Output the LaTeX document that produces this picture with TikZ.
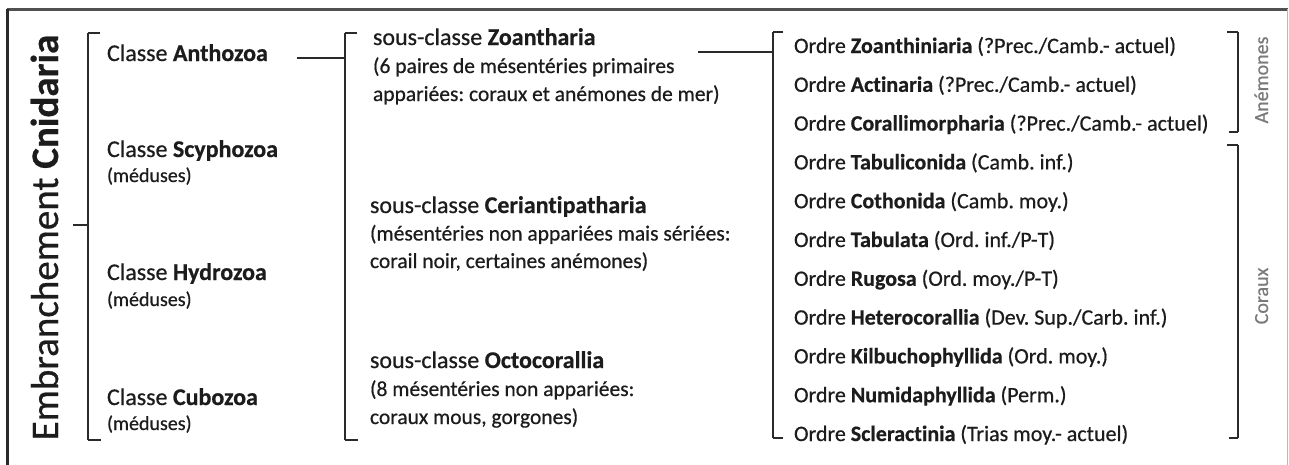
\documentclass[tikz,border=0pt]{standalone}
\usepackage{fontspec}
\setmainfont{Carlito}[Ligatures=NoCommon,FakeBold=0.6]
\definecolor{txt}{HTML}{1C1C1C}
\definecolor{ln}{HTML}{2A2A2A}
\definecolor{lbl}{HTML}{7A7A7A}
\definecolor{frtop}{HTML}{505050}
\definecolor{frright}{HTML}{B8B8B8}
\frenchspacing
\begin{document}
\begin{tikzpicture}[x=1pt,y=-1pt,
  every node/.style={inner sep=0pt,outer sep=0pt,text=txt},
  hd/.style={anchor=base west,font=\fontsize{24}{28}\selectfont},
  sm/.style={anchor=base west,font=\fontsize{20}{24}\selectfont},
  ds/.style={anchor=base west,font=\fontsize{21.5}{26}\selectfont},
  od/.style={anchor=base west,font=\fontsize{22}{26}\selectfont},
  gl/.style={anchor=base,rotate=90,text=lbl,font=\fontsize{20}{24}\selectfont},
  big/.style={anchor=base,rotate=90,font=\fontsize{39}{44}\selectfont},
  br/.style={draw=ln,line width=2.8pt},
  tk/.style={draw=ln,line width=2.2pt}]
\useasboundingbox (0,0) rectangle (1289,464);
% frame
\draw[draw=frtop,line width=2.8pt] (6.5,9.5) -- (1288,9.5);
\draw[draw=ln,line width=2.2pt] (7.5,9) -- (7.5,470);
\draw[draw=frright,line width=1pt] (1287,9) -- (1287,470);

% phylum
\node[big] (emb) at (58,237.5) {Embranchement \textbf{Cnidaria}};

% classes
\node[hd] (anth) at (107,61) {Classe \textbf{Anthozoa}};
\node[hd] (scyp) at (107,157) {Classe \textbf{Scyphozoa}};
\node[sm] (scypm) at (107,182) {(méduses)};
\node[hd] (hydr) at (107,280) {Classe \textbf{Hydrozoa}};
\node[sm] (hydrm) at (107,306) {(méduses)};
\node[hd] (cubo) at (107,405) {Classe \textbf{Cubozoa}};
\node[sm] (cubom) at (107,430) {(méduses)};

% subclasses
\node[hd] (zoan) at (373,45) {sous-classe \textbf{Zoantharia}};
\node[ds] (zoan1) at (373,73) {(6 paires de mésentéries primaires};
\node[ds] (zoan2) at (373,101) {appariées: coraux et anémones de mer)};
\node[hd] (ceri) at (370,213) {sous-classe \textbf{Ceriantipatharia}};
\node[ds] (ceri1) at (370,240.5) {(mésentéries non appariées mais sériées:};
\node[ds] (ceri2) at (370,268) {corail noir, certaines anémones)};
\node[hd] (octo) at (370,368) {sous-classe \textbf{Octocorallia}};
\node[ds] (octo1) at (370,396) {(8 mésentéries non appariées:};
\node[ds] (octo2) at (370,424) {coraux mous, gorgones)};

% orders
\node[od] (ord0) at (794,53.0) {Ordre \textbf{Zoanthiniaria} (?Prec./Camb.- actuel)};
\node[od] (ord1) at (794,91.8) {Ordre \textbf{Actinaria} (?Prec./Camb.- actuel)};
\node[od] (ord2) at (794,130.6) {Ordre \textbf{Corallimorpharia} (?Prec./Camb.- actuel)};
\node[od] (ord3) at (794,169.4) {Ordre \textbf{Tabuliconida} (Camb. inf.)};
\node[od] (ord4) at (794,208.2) {Ordre \textbf{Cothonida} (Camb. moy.)};
\node[od] (ord5) at (794,247.0) {Ordre \textbf{Tabulata} (Ord. inf./P-T)};
\node[od] (ord6) at (794,285.8) {Ordre \textbf{Rugosa} (Ord. moy./P-T)};
\node[od] (ord7) at (794,324.6) {Ordre \textbf{Heterocorallia} (Dev. Sup./Carb. inf.)};
\node[od] (ord8) at (794,363.4) {Ordre \textbf{Kilbuchophyllida} (Ord. moy.)};
\node[od] (ord9) at (794,402.2) {Ordre \textbf{Numidaphyllida} (Perm.)};
\node[od] (ord10) at (794,441.0) {Ordre \textbf{Scleractinia} (Trias moy.- actuel)};

% group labels
\node[gl] (anem) at (1268,80) {Anémones};
\node[gl] (cora) at (1268,296) {Coraux};

% bracket coordinates
\coordinate (b1t) at (88,33);   \coordinate (b1b) at (88,440);
\coordinate (b1m) at (88,225);  \coordinate (b1l) at (73,225);
\coordinate (b2t) at (345,33);  \coordinate (b2b) at (345,440);
\coordinate (b2m) at (345,58);  \coordinate (c1) at (297,58);
\coordinate (b3t) at (773,32);  \coordinate (b3b) at (773,438);
\coordinate (b3m) at (773,52);  \coordinate (c2) at (698,52);
\coordinate (bat) at (1238,32); \coordinate (bab) at (1238,132);
\coordinate (bct) at (1238,145);\coordinate (bcb) at (1238,438);

% brackets
\draw[br] (b1t) -- (b1b);
\draw[tk] (b1t) -- ++(12,0);
\draw[tk] (b1b) -- ++(13,0);
\draw[br] (b1l) -- (b1m);

\draw[br] (b2t) -- (b2b);
\draw[tk] (b2t) -- ++(12,0);
\draw[tk] (b2b) -- ++(13,0);
\draw[br] (c1) -- (b2m);

\draw[br] (b3t) -- (b3b);
\draw[tk] (b3t) -- ++(10,0);
\draw[tk] (b3b) -- ++(10,0);
\draw[br] (c2) -- (b3m);

\draw[br] (bat) -- (bab);
\draw[tk] (bat) -- ++(-11,0);
\draw[tk] (bab) -- ++(-9,0);
\draw[br] (bct) -- (bcb);
\draw[tk] (bct) -- ++(-11,0);
\draw[tk] (bcb) -- ++(-9,0);
\end{tikzpicture}
\end{document}
